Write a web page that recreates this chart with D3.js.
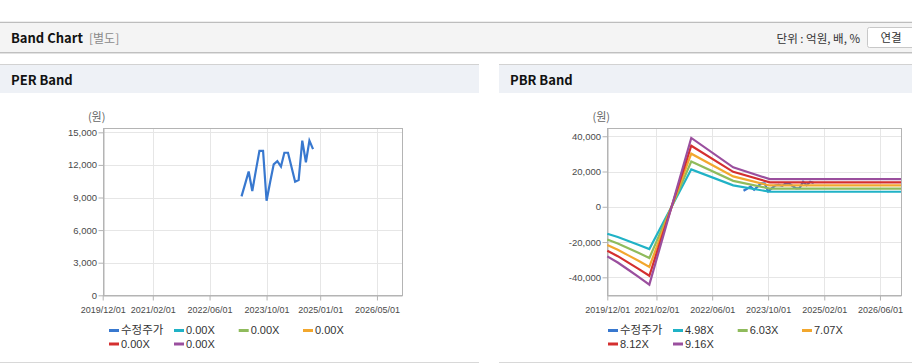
<!DOCTYPE html>
<html><head><meta charset="utf-8">
<script src="https://cdn.jsdelivr.net/npm/d3@7"></script>
<style>body{margin:0;background:#fff}svg{display:block}</style>
</head><body>
<svg id="c" width="912" height="364"></svg>
<script>
// ---------- data ----------
const priceDates = ["2023-03-01","2023-04-01","2023-05-01","2023-06-01","2023-07-01","2023-08-01","2023-09-01","2023-10-01","2023-11-01","2023-12-01","2024-01-01","2024-02-01","2024-03-01","2024-04-01","2024-05-01","2024-06-01","2024-07-01","2024-08-01","2024-09-01","2024-10-01","2024-11-01"];
const priceValues = [9100,10250,11400,9600,11450,13300,13300,8700,10450,12050,12350,11850,13120,13120,11800,10450,10600,14230,12250,14230,13450];

const perLabels = ["0.00X","0.00X","0.00X","0.00X","0.00X"];
const perBandDates = [];
const perBand1 = [], perBand2 = [], perBand3 = [], perBand4 = [], perBand5 = [];

const pbrLabels = ["4.98X","6.03X","7.07X","8.12X","9.16X"];
const pbrDates = ["2019-12-01","2020-03-01","2020-06-01","2020-09-01","2020-12-01","2021-12-01","2022-12-01","2023-10-15","2026-12-01"];
const pbrBand1 = [-15304,-17181,-19422,-21663,-24004,21215,12151,8516,8516];
const pbrBand2 = [-18530,-20804,-23517,-26231,-29065,25688,14713,10311,10311];
const pbrBand3 = [-21726,-24392,-27573,-30755,-34077,30118,17251,12090,12090];
const pbrBand4 = [-24953,-28014,-31668,-35322,-39138,34591,19813,13885,13885];
const pbrBand5 = [-28149,-31602,-35724,-39846,-44151,39022,22350,15664,15664];

const perXTicks = ["2019/12/01","2021/02/01","2022/06/01","2023/10/01","2025/01/01","2026/05/01"];
const pbrXTicks = ["2019/12/01","2021/02/01","2022/06/01","2023/10/01","2025/02/01","2026/06/01"];
const perYTicks = [0,3000,6000,9000,12000,15000];
const pbrYTicks = [-40000,-20000,0,20000,40000];
const xDomain = ["2019-12-01","2026-12-01"];
const perYDomain = [0,15370];
const pbrYDomain = [-50200,44500];

const priceLabel = "수정주가";
const priceColor = "#3878cf";
const bandColors = ["#20b2c6","#8fbb5c","#f2a72e","#d42f2f","#9a4f9e"];

// ---------- helpers ----------
const parse = d3.timeParse("%Y-%m-%d");
const parseTick = d3.timeParse("%Y/%m/%d");
const fmtNum = d => d3.format(",")(d).replace("\u2212","-");
const svg = d3.select("#c");
const KR = "'Noto Sans CJK KR','Noto Sans',sans-serif";
const LAT = "'Liberation Sans',Arial,sans-serif";

// ---------- page header ----------
svg.append("line").attr("x1",0).attr("x2",912).attr("y1",22.5).attr("y2",22.5).attr("stroke","#bdbdbd").attr("stroke-width",1.5);
svg.append("rect").attr("x",0).attr("y",23).attr("width",912).attr("height",29).attr("fill","#f4f4f4");
svg.append("line").attr("x1",0).attr("x2",912).attr("y1",52.5).attr("y2",52.5).attr("stroke","#c0c0c0");
svg.append("line").attr("x1",0).attr("x2",912).attr("y1",53.5).attr("y2",53.5).attr("stroke","#e2e2e2");
svg.append("text").attr("x",11).attr("y",43).attr("font-family",KR).attr("font-weight","bold").attr("font-size",13).attr("fill","#111").text("Band Chart");
svg.append("text").attr("x",89).attr("y",43).attr("font-family",KR).attr("font-size",12).attr("fill","#8a8a8a").text("[별도]");
svg.append("text").attr("x",860).attr("y",42.5).attr("text-anchor","end").attr("font-family",KR).attr("font-size",11.5).attr("fill","#333").text("단위 : 억원, 배, %");
svg.append("rect").attr("x",867.5).attr("y",27.5).attr("width",50).attr("height",20).attr("rx",2).attr("fill","#fff").attr("stroke","#c8c8c8");
svg.append("text").attr("x",891).attr("y",42).attr("text-anchor","middle").attr("font-family",KR).attr("font-size",11.5).attr("fill","#333").text("연결");

// ---------- panels ----------
function panel(x0, w, title) {
  svg.append("rect").attr("x",x0).attr("y",64).attr("width",w).attr("height",29).attr("fill","#eef1f6");
  svg.append("line").attr("x1",x0).attr("x2",x0+w).attr("y1",64.5).attr("y2",64.5).attr("stroke","#d2d2d2");
  svg.append("line").attr("x1",x0).attr("x2",x0+w).attr("y1",362.5).attr("y2",362.5).attr("stroke","#d8d8d8");
  svg.append("text").attr("x",x0+11).attr("y",84.5).attr("font-family",KR).attr("font-weight","bold").attr("font-size",13).attr("fill","#111").text(title);
}
panel(0,479,"PER Band");
panel(499,413,"PBR Band");

// ---------- chart ----------
function chart(opt) {
  const x = d3.scaleTime().domain(xDomain.map(parse)).range([opt.left, opt.right]);
  const y = d3.scaleLinear().domain(opt.yDomain).range([295.3, 128.3]);
  const g = svg.append("g");
  // grid
  g.selectAll(".gx").data(opt.xTicks.map(parseTick)).join("line")
    .attr("x1",d=>Math.round(x(d))+0.5).attr("x2",d=>Math.round(x(d))+0.5)
    .attr("y1",128.3).attr("y2",295.3).attr("stroke","#e6e6e6");
  g.selectAll(".gy").data(opt.yTicks).join("line")
    .attr("x1",opt.left).attr("x2",opt.right)
    .attr("y1",d=>Math.round(y(d))+0.5).attr("y2",d=>Math.round(y(d))+0.5).attr("stroke","#e6e6e6");
  // plot frame
  g.append("rect").attr("x",Math.round(opt.left)+0.5).attr("y",128.5)
    .attr("width",Math.round(opt.right)-Math.round(opt.left)).attr("height",167)
    .attr("fill","none").attr("stroke","#b4b4b4");
  // axes
  const ax = g.append("g").attr("transform","translate(0,295.5)")
    .call(d3.axisBottom(x).tickValues(opt.xTicks.map(parseTick)).tickFormat(d3.timeFormat("%Y/%m/%d")).tickSize(5).tickSizeOuter(0));
  const ay = g.append("g").attr("transform",`translate(${Math.round(opt.left)+0.5},0)`)
    .call(d3.axisLeft(y).tickValues(opt.yTicks).tickFormat(fmtNum).tickSize(5).tickSizeOuter(0));
  [ax,ay].forEach(a=>{
    a.select(".domain").attr("stroke","#b4b4b4");
    a.selectAll(".tick line").attr("stroke","#b4b4b4");
    a.selectAll(".tick text").attr("fill","#4a4a4a").attr("font-family",LAT).attr("font-size",9);
  });
  ax.selectAll(".tick text").attr("dy","1.05em");
  ay.selectAll(".tick text").attr("x",-6.5).attr("font-size",9.5);
  g.append("text").attr("x",opt.left-6).attr("y",121).attr("text-anchor","middle")
    .attr("font-family",KR).attr("font-size",11).attr("fill","#666").text("(원)");
  // lines
  const line = d3.line().defined(d=>d[1]!=null).x(d=>x(d[0])).y(d=>y(d[1]));
  g.append("path").datum(priceDates.map((d,i)=>[parse(d),priceValues[i]]))
    .attr("d",line).attr("fill","none").attr("stroke",priceColor).attr("stroke-width",2.2);
  opt.bands.forEach((vals,k)=>{
    if(!vals.length) return;
    g.append("path").datum(opt.bandDates.map((d,i)=>[parse(d),vals[i]]))
      .attr("d",line).attr("fill","none").attr("stroke",bandColors[k]).attr("stroke-width",2.2);
  });
  // legend
  const items = [{label:priceLabel,color:priceColor}].concat(opt.labels.map((l,i)=>({label:l,color:bandColors[i]})));
  const cols = [0,65,129.7,194];
  items.forEach((it,i)=>{
    const tx = opt.legendX + cols[i%4];
    const ty = i<4 ? 330 : 343.5;
    g.append("line").attr("x1",tx-12).attr("x2",tx-2).attr("y1",ty+0.5).attr("y2",ty+0.5)
      .attr("stroke",it.color).attr("stroke-width",3);
    g.append("text").attr("x",tx).attr("y",ty+4).attr("font-family",i===0?KR:LAT)
      .attr("font-size",i===0?11.5:11).attr("fill","#333").text(it.label);
  });
}

chart({left:102.7,right:402,yDomain:perYDomain,xTicks:perXTicks,yTicks:perYTicks,
  bandDates:perBandDates,bands:[perBand1,perBand2,perBand3,perBand4,perBand5],labels:perLabels,legendX:121});
chart({left:607.3,right:901,yDomain:pbrYDomain,xTicks:pbrXTicks,yTicks:pbrYTicks,
  bandDates:pbrDates,bands:[pbrBand1,pbrBand2,pbrBand3,pbrBand4,pbrBand5],labels:pbrLabels,legendX:620});
</script>
</body></html>
